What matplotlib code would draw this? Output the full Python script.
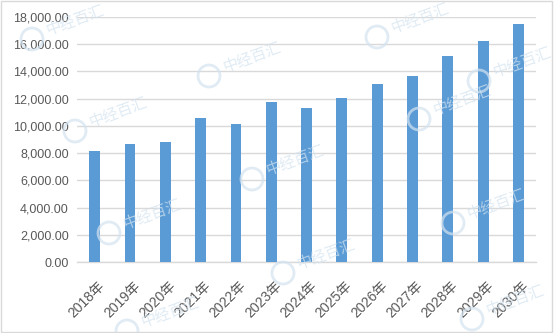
import matplotlib.pyplot as plt
from matplotlib.patches import Rectangle, Ellipse
from matplotlib.ticker import FuncFormatter
from matplotlib.transforms import ScaledTranslation

plt.rcParams['font.family'] = ['Liberation Sans', 'Noto Sans CJK SC', 'DejaVu Sans']

# ---- data ----
years = ["2018年", "2019年", "2020年", "2021年", "2022年", "2023年", "2024年",
         "2025年", "2026年", "2027年", "2028年", "2029年", "2030年"]
values = [8150, 8700, 8850, 10550, 10150, 11750, 11350,
          12050, 13100, 13700, 15100, 16200, 17500]
y_ticks = list(range(0, 18001, 2000))

bar_color = "#5B9BD5"
grid_color = "#D9D9D9"
text_color = "#595959"
W, H = 554, 333

fig = plt.figure(figsize=(W / 100, H / 100), dpi=100)
ax = fig.add_axes([0.139, 0.213, 0.829, 0.736])

x = range(len(years))
ax.bar(x, values, width=0.31, color=bar_color, zorder=3)

ax.set_xlim(-0.5, len(years) - 0.5)
ax.set_ylim(0, 18000)
ax.set_yticks(y_ticks)
ax.yaxis.set_major_formatter(FuncFormatter(lambda v, p: f"{v:,.2f}"))
ax.set_xticks(list(x))
ax.set_xticklabels(years, rotation=45, ha="right", rotation_mode="anchor")

ax.grid(axis="y", color=grid_color, linewidth=1, zorder=0)
ax.tick_params(length=0, colors=text_color)
ax.tick_params(axis="y", labelsize=9, pad=6)
ax.tick_params(axis="x", labelsize=10, pad=12)
shift = ScaledTranslation(3 / 100, 0, fig.dpi_scale_trans)
for lbl in ax.get_xticklabels():
    lbl.set_transform(lbl.get_transform() + shift)
for s in ["top", "right", "left"]:
    ax.spines[s].set_visible(False)
ax.spines["bottom"].set_color(grid_color)
ax.spines["bottom"].set_linewidth(1)

# ---- faint watermarks (kept inside the canvas) ----
marks = [(75, 20), (252, 57), (118, 112), (420, 18), (462, 100), (522, 62),
         (152, 214), (170, 312), (326, 254), (496, 204), (515, 300), (295, 160)]
wm_color = "#D3E3F0"
for mx, my in marks:
    fx, fy = mx / W, 1 - my / H
    fig.text(fx, fy, "中经百汇", fontsize=11, color=wm_color, alpha=0.7,
             rotation=20, ha="center", va="center", zorder=0,
             family=['Noto Sans CJK SC'])
    r = 11
    fig.patches.append(Ellipse(((mx - 43) / W, 1 - (my + 19) / H), 2 * r / W, 2 * r / H,
                               transform=fig.transFigure, facecolor="none",
                               edgecolor=wm_color, alpha=0.7, linewidth=2, zorder=0))

# outer border
fig.patches.append(Rectangle((0.001, 0.002), 0.996, 0.994, transform=fig.transFigure,
                             fill=False, edgecolor="#D9D9D9", linewidth=1))

fig.savefig("out.png", dpi=100)
